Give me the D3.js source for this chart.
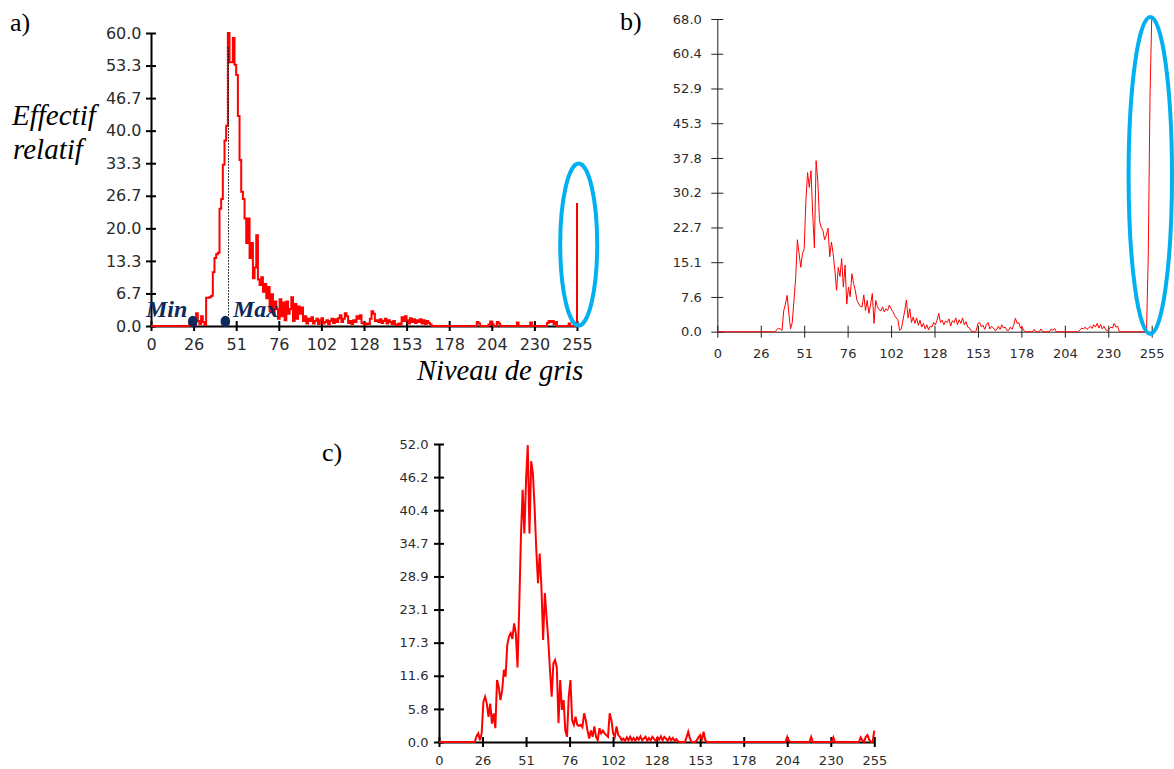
<!DOCTYPE html>
<html><head><meta charset="utf-8">
<script src="https://cdn.jsdelivr.net/npm/d3@7"></script>
<style>body{margin:0;background:#fff}svg{display:block}</style>
</head><body>
<svg id="chart" width="1174" height="769"></svg>
<script>
// ---------- data ----------
const greyLevels = d3.range(256);
const xTickValues = [0, 25.5, 51, 76.5, 102, 127.5, 153, 178.5, 204, 229.5, 255];
const xTickLabels = ["0","26","51","76","102","128","153","178","204","230","255"];

const yMaxA = 60.0;
const yTickLabelsA = ["0.0","6.7","13.3","20.0","26.7","33.3","40.0","46.7","53.3","60.0"];
const yMaxB = 68.0;
const yTickLabelsB = ["0.0","7.6","15.1","22.7","30.2","37.8","45.3","52.9","60.4","68.0"];
const yMaxC = 52.0;
const yTickLabelsC = ["0.0","5.8","11.6","17.3","23.1","28.9","34.7","40.4","46.2","52.0"];

const valuesA = [
 0,0,0,0,0,0,0,0,0,0,0,0,0,0,0,0,
 0,0,0,0,0,0,0,0.4,0,1.2,0.3,2.6,1.0,0.4,2.0,0.8,
 0.2,5.8,5.8,5.9,6.2,11.0,13.9,14.7,15.0,24.0,26.0,33.0,38.0,41.0,60.0,54.0,
 54.0,59.0,53.5,51.4,43.0,34.0,27.5,26.0,22.0,17.0,22.0,13.9,17.0,9.8,12.0,18.6,
 9.5,8.4,10.0,7.0,8.6,5.7,8.0,3.0,6.5,2.5,5.0,3.5,1.5,5.5,2.0,4.8,
 1.2,5.0,2.5,3.5,5.9,1.0,4.5,1.5,4.0,2.5,3.8,1.0,2.0,0.5,1.5,1.0,
 1.8,0.5,1.0,1.5,0.4,1.2,1.6,0.5,0.8,1.2,0.3,1.0,1.5,0.6,1.4,0.8,
 1.6,2.2,0.8,1.5,2.6,2.0,0.6,1.0,0.4,1.2,0.8,2.0,1.5,2.2,0.6,0.5,
 0.3,0.5,0.4,1.5,3.0,2.5,1.0,1.2,0.8,1.4,0.6,1.0,1.5,0.5,1.2,0.8,
 0.4,1.0,0.3,0.2,0.5,0.3,1.8,1.0,2.0,1.2,0.5,1.6,0.8,1.4,0.6,1.2,
 0.8,1.4,0.5,1.2,0.4,1.0,0.6,0.3,0,0,0,0,0,0,0,0,
 0,0,0,0,0,0,0,0,0,0,0,0,0,0,0,0,
 0,0,0,0.8,0.5,0,0,0,0,0,0.3,0.9,0.4,0,0,0.8,
 0.5,0,0,0,0,0,0,0,0,0,0,0.7,0,0,0,0,
 0,0,0,0.7,0,0,0,0,0,0,0,0,0,0.6,1.0,0.8,
 1.0,0.4,0.8,0,0,0,0,0,0,0,0.5,0,0,0,0,25.2
];

const valuesB = [
 0,0,0,0,0,0,0,0,0,0,0,0,0,0,0,0,
 0,0,0,0,0,0,0,0,0,0,0,0,0,0,0,0,
 0,0,0,0.5,0.7,0.6,0.3,4.6,6.0,7.9,4.0,0.6,2.0,6.8,11.6,20.0,
 17.0,14.0,17.0,18.0,28.5,34.6,31.4,35.0,25.6,18.2,37.2,32.8,24.1,22.7,22.0,20.0,
 21.0,22.5,16.3,19.5,17.0,13.4,9.0,14.0,12.0,15.9,9.7,14.5,6.0,9.7,7.6,12.6,
 10.5,9.0,6.8,6.0,5.5,5.4,8.0,4.6,6.8,4.0,6.0,8.3,1.8,6.8,5.4,4.8,
 4.5,5.4,4.3,5.0,4.6,5.8,5.0,4.4,3.6,3.0,2.6,0.3,0.6,2.5,4.5,6.9,
 3.0,5.0,2.0,3.2,1.8,3.0,1.4,2.5,1.0,1.8,0.6,1.5,0.4,1.2,1.0,2.0,
 1.5,2.5,4.0,2.0,2.5,1.5,2.3,2.0,2.8,1.2,2.4,2.0,3.0,1.5,2.6,1.8,
 3.0,1.5,2.2,1.0,0.8,0.2,0,0,0.2,1.8,2.0,1.0,1.4,0.5,1.6,2.0,
 0.6,1.2,0.8,0.3,0.4,1.2,0.5,1.5,0.8,1.0,0.3,0.3,1.0,0.5,1.4,2.9,
 1.8,2.0,0.8,1.0,0.2,0,0,0,0,0,0.5,0,0,0,0.6,0,
 0,0,0,0,0.6,0.3,0.7,0,0,0,0,0,0,0,0,0,
 0,0,0,0,0,0.4,0.8,0.6,1.0,0.5,0.8,1.2,0.7,1.5,1.0,1.8,
 0.8,1.6,0.6,1.2,0.4,0.2,0.6,1.0,0.8,1.8,1.0,1.2,0,0,0,0,
 0,0,0,0,0,0,0,0,0,0,0,0,0.5,17.0,51.0,68.0
];

const valuesC = [
 0,0,0,0,0,0,0,0,0,0,0,0,0,0,0,0,
 0,0,0,0,0,0,1.0,1.5,0.3,1.5,7.0,7.9,6.7,4.4,6.7,3.2,
 5.0,2.4,10.8,9.6,7.3,9.0,12.6,11.4,17.0,18.4,19.0,18.0,20.7,19.0,13.0,23.6,
 35.8,44.0,36.4,45.7,51.8,36.4,49.0,46.9,41.0,33.5,27.7,32.9,27.0,17.8,26.0,21.9,
 17.8,12.6,7.9,13.7,14.3,13.0,3.3,10.8,5.6,7.3,2.0,0.9,7.9,10.8,3.8,3.0,
 4.4,3.0,2.8,3.0,2.6,5.0,3.8,2.0,0.6,2.0,0.9,2.7,0.9,0.3,2.4,1.5,
 2.0,1.5,1.2,0.9,5.0,3.8,1.5,0.9,2.7,1.2,0.9,0.3,0.6,0.2,0.8,0.3,
 0.9,0.3,0.7,0.2,0.8,0.4,1.0,0.3,0.6,0.9,0.2,0.7,0.3,0.9,0.5,0.2,
 0.8,0.4,1.0,0.3,0.9,0.6,0.2,0.8,0.3,0.7,0.2,0.5,0.1,0,0,0,
 0,0.8,1.8,0.6,0,0,0,0.3,0.8,1.2,0.4,1.8,0.3,0,0,0,
 0,0,0,0,0,0,0,0,0,0,0,0,0,0,0,0,
 0,0,0,0,0,0,0,0,0,0,0,0,0,0,0,0,
 0,0,0,0,0,0,0,0,0,0,0,0,0.9,0.2,0,0,
 0,0,0,0,0,0,0,0,0,0,0.9,0,0,0,0,0,
 0,0,0,0,0,0,0,0.8,0,0,0,0,0,0,0,0,
 0,0,0,0,0,0,0,0.8,0.3,0,0.9,1.2,0.4,0,0,2.0
];

// annotation positions (grey levels / values) for panel a
const minLevel = 25, maxLevel = 44.5, modeLevel = 46.4, modeTop = 57.1;

// ---------- drawing ----------
const svg = d3.select("#chart");
const RED = "#ff0000", BLUE = "#00b0f0", NAVY = "#0e2a5c";

function panel(o) {
  const x = d3.scaleLinear().domain([0, 255]).range([o.left, o.right]);
  const y = d3.scaleLinear().domain([0, o.yMax]).range([o.bottom, o.top]);
  const g = svg.append("g");
  const yTicks = o.yLabels.map((_, i) => o.yMax * i / 9);

  const ax = g.append("g").attr("transform", `translate(0,${o.bottom})`)
    .call(d3.axisBottom(x).tickValues(xTickValues)
      .tickFormat((d, i) => xTickLabels[i]).tickSizeOuter(0));
  ax.selectAll(".tick line").attr("y1", -o.tick).attr("y2", o.tick)
    .attr("stroke", o.axisColor).attr("stroke-width", o.axisW);
  ax.selectAll(".tick text").attr("y", o.xLabY).attr("dy", "0.71em")
    .attr("fill", "#2b2b2b").style("font", `${o.fs}px 'DejaVu Sans'`);
  ax.select(".domain").attr("stroke", o.axisColor).attr("stroke-width", o.axisW);

  const ay = g.append("g").attr("transform", `translate(${o.left},0)`)
    .call(d3.axisLeft(y).tickValues(yTicks)
      .tickFormat((d, i) => o.yLabels[i]).tickSizeOuter(0));
  ay.selectAll(".tick line").attr("x1", o.tick).attr("x2", -o.tick)
    .attr("stroke", o.axisColor).attr("stroke-width", o.axisW);
  ay.selectAll(".tick text").attr("x", -o.yLabX)
    .attr("fill", "#2b2b2b").style("font", `${o.fs}px 'DejaVu Sans'`);
  ay.select(".domain").attr("stroke", o.axisColor).attr("stroke-width", o.axisW);

  const line = d3.line().x(d => x(d)).y((d, i) => y(o.values[i])).curve(o.curve);
  g.append("path").datum(greyLevels).attr("d", line)
    .attr("fill", "none").attr("stroke", RED).attr("stroke-width", o.lineW)
    .attr("stroke-linejoin", "miter");

  g.append("text").attr("x", o.labX).attr("y", o.labY).text(o.label)
    .style("font", "26px 'Liberation Serif'").attr("fill", "#000");
  return {x, y, g};
}

const A = panel({left:151, right:577, top:33, bottom:326, yMax:yMaxA, yLabels:yTickLabelsA,
  values:valuesA, curve:d3.curveStepAfter, lineW:2, axisColor:"#000", axisW:2, tick:5,
  fs:16, xLabY:13, yLabX:9.5, label:"a)", labX:10, labY:31});
const B = panel({left:717.3, right:1151.7, top:19, bottom:331.7, yMax:yMaxB, yLabels:yTickLabelsB,
  values:valuesB, curve:d3.curveLinear, lineW:1, axisColor:"#222", axisW:1, tick:6,
  fs:13, xLabY:17, yLabX:15.5, label:"b)", labX:620, labY:30});
const C = panel({left:439, right:874.3, top:444, bottom:742, yMax:yMaxC, yLabels:yTickLabelsC,
  values:valuesC, curve:d3.curveLinear, lineW:2, axisColor:"#000", axisW:2, tick:5,
  fs:13, xLabY:14, yLabX:10.5, label:"c)", labX:322, labY:461});

// ---- panel a annotations ----
A.g.append("line").attr("x1", A.x(modeLevel)).attr("x2", A.x(modeLevel))
  .attr("y1", A.y(modeTop)).attr("y2", A.y(0))
  .attr("stroke", "#000").attr("stroke-width", 1).attr("stroke-dasharray", "1.5,1.5");
[minLevel, maxLevel].forEach(v => {
  A.g.append("ellipse").attr("cx", A.x(v)).attr("cy", A.y(0) - 4.5)
    .attr("rx", 4.8).attr("ry", 5.8).attr("fill", NAVY);
});
A.g.append("text").attr("x", 146).attr("y", 317).text("Min")
  .style("font", "bold italic 24px 'Liberation Serif'").attr("fill", NAVY);
A.g.append("text").attr("x", 233).attr("y", 317).text("Max")
  .style("font", "bold italic 24px 'Liberation Serif'").attr("fill", NAVY);
A.g.append("text").attr("x", 12).attr("y", 125).text("Effectif")
  .style("font", "italic 29px 'Liberation Serif'").attr("fill", "#000");
A.g.append("text").attr("x", 13).attr("y", 159).text("relatif")
  .style("font", "italic 29px 'Liberation Serif'").attr("fill", "#000");
A.g.append("text").attr("x", 417).attr("y", 380).text("Niveau de gris")
  .style("font", "italic 28.5px 'Liberation Serif'").attr("fill", "#000");

// highlight ellipses around grey level 255
A.g.append("ellipse").attr("cx", A.x(255) + 1.7).attr("cy", 244.5).attr("rx", 18.5).attr("ry", 81)
  .attr("fill", "none").attr("stroke", BLUE).attr("stroke-width", 4);
B.g.append("ellipse").attr("cx", B.x(255) - 1.4).attr("cy", 175.5).attr("rx", 21.7).attr("ry", 158.5)
  .attr("fill", "none").attr("stroke", BLUE).attr("stroke-width", 4);
</script>
</body></html>
